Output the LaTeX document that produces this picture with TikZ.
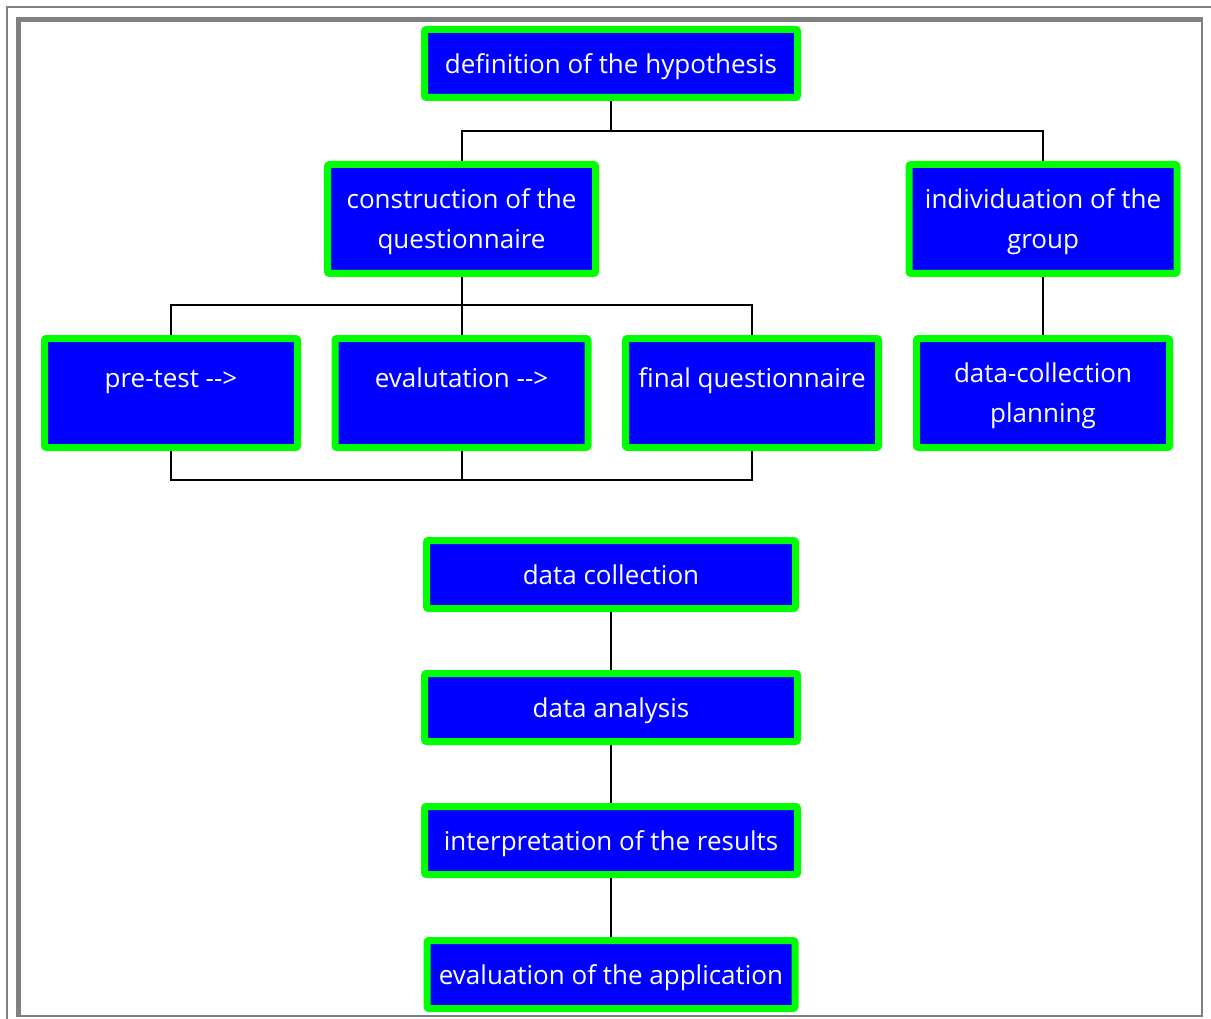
\documentclass[tikz,border=0pt]{standalone}
\usepackage{fontspec}
\setmainfont{Open Sans}
\definecolor{boxblue}{RGB}{0,0,255}
\definecolor{boxgreen}{RGB}{0,255,0}
\definecolor{framegray}{RGB}{128,128,128}
\begin{document}
\begin{tikzpicture}[x=1pt, y=-1pt,
	stepbox/.style={draw=boxgreen, fill=boxblue, line width=7pt, rounded corners=2pt, text=white, align=center, inner sep=2pt, text depth=0pt, font=\fontsize{26}{40}\selectfont},
	widebox/.style={stepbox, minimum width=373pt, minimum height=68pt},
	tallbox/.style={stepbox, minimum width=268pt, minimum height=109pt},
	smallbox/.style={stepbox, minimum width=253pt, minimum height=109pt},
	link/.style={black, line width=2pt}]
	\useasboundingbox (0,0) rectangle (1211,1019);
	% frames
	\draw[framegray, line width=2pt] (7,1019) -- (7,7.5) -- (1211,7.5);
	\draw[framegray, line width=5pt] (18.5,1017) -- (18.5,19.5) -- (1203,19.5);
	\draw[framegray, line width=2pt] (1202,19) -- (1202,1016) -- (16,1016);
	% boxes
	\node[widebox] (hyp) at (611,63.5) {definition of the hypothesis};
	\node[tallbox] (constr) at (461.5,219) {construction of the\\questionnaire};
	\node[tallbox] (group) at (1043,219) {individuation of the\\group};
	\node[smallbox] (pretest) at (171,393) {\strut pre-test -{}->\\\mbox{}};
	\node[smallbox] (evalut) at (461.5,393) {\strut evalutation -{}->\\\mbox{}};
	\node[smallbox] (final) at (752,393) {\strut final questionnaire\\\mbox{}};
	\node[smallbox] (plan) at (1043,393) {data-collection\\planning};
	\node[widebox, minimum width=369pt] (collect) at (611,574.5) {data collection};
	\node[widebox] (analysis) at (611,707.5) {data analysis};
	\node[widebox] (interp) at (611,840.5) {interpretation of the results};
	\node[widebox, minimum width=368pt] (appl) at (611,974.5) {evaluation of the application};
	% connectors
	\coordinate (top) at (611,131);
	\coordinate (mid) at (461.5,305);
	\coordinate (low) at (461.5,480);
	\draw[link] (hyp.south) -- (top);
	\draw[link] (constr.north) |- (top) -| (group.north);
	\draw[link] (constr.south) -- (mid);
	\draw[link] (pretest.north) |- (mid) -| (final.north);
	\draw[link] (evalut.north) -- (mid);
	\draw[link] (group.south) -- (plan.north);
	\draw[link] (pretest.south) |- (low) -| (final.south);
	\draw[link] (evalut.south) -- (low);
	\draw[link] (collect.south) -- (analysis.north);
	\draw[link] (analysis.south) -- (interp.north);
	\draw[link] (interp.south) -- (appl.north);
\end{tikzpicture}
\end{document}
